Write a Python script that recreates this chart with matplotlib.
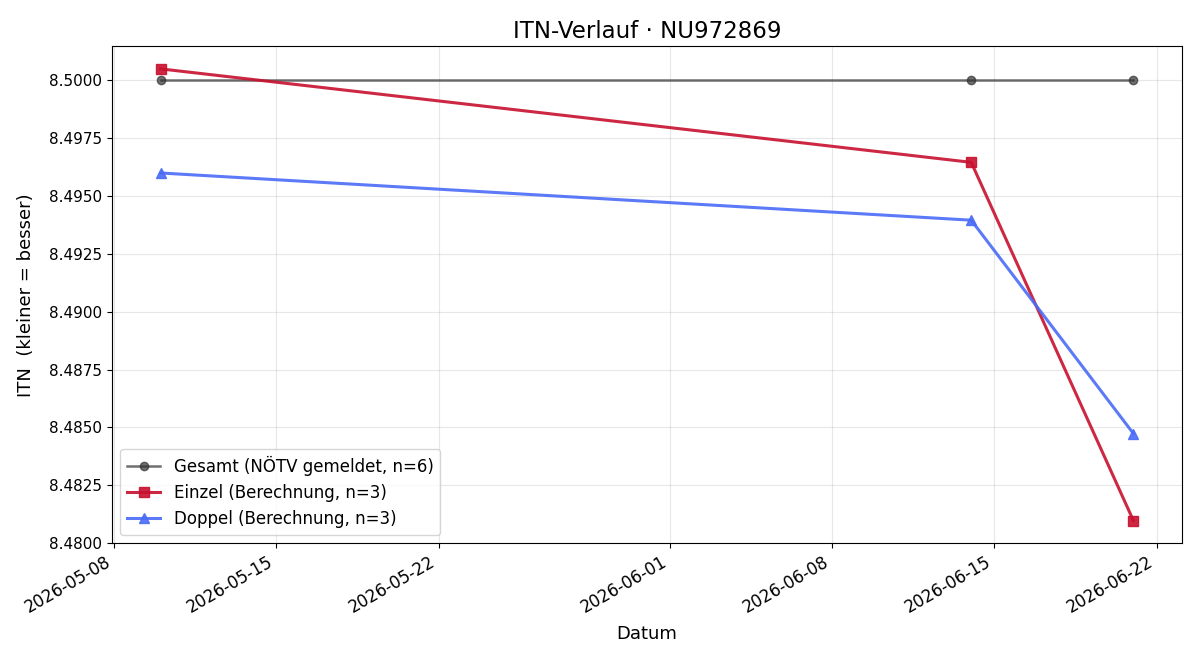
import numpy as np
import pandas as pd
import matplotlib
matplotlib.use("Agg")
import matplotlib.pyplot as plt
import matplotlib.dates as mdates
from matplotlib.ticker import FormatStrFormatter

gesamt_dates = pd.to_datetime(["2026-05-10", "2026-06-14", "2026-06-21"])
gesamt_itn = [8.5000, 8.5000, 8.5000]

einzel_dates = pd.to_datetime(["2026-05-10", "2026-06-14", "2026-06-21"])
einzel_itn = [8.50050, 8.49646, 8.48098]

doppel_dates = pd.to_datetime(["2026-05-10", "2026-06-14", "2026-06-21"])
doppel_itn = [8.49600, 8.49396, 8.48474]

fig, ax = plt.subplots(figsize=(12, 6.6), dpi=100)

ax.plot(gesamt_dates, gesamt_itn, marker="o", color="#333333", alpha=0.7,
        linewidth=1.8, markersize=6, label="Gesamt (NÖTV gemeldet, n=6)")
ax.plot(einzel_dates, einzel_itn, marker="s", color="#c8102e", alpha=0.9,
        linewidth=2.2, markersize=7, label="Einzel (Berechnung, n=3)")
ax.plot(doppel_dates, doppel_itn, marker="^", color="#4a6cf7", alpha=0.9,
        linewidth=2.2, markersize=7, label="Doppel (Berechnung, n=3)")

ax.set_title("ITN-Verlauf · NU972869", fontsize=16.5)
ax.set_xlabel("Datum", fontsize=13, labelpad=6)
ax.set_ylabel("ITN  (kleiner = besser)", fontsize=13, labelpad=10)
ax.set_ylim(8.4800, 8.50148)
ax.yaxis.set_major_formatter(FormatStrFormatter("%.4f"))
ax.xaxis.set_major_formatter(mdates.DateFormatter("%Y-%m-%d"))
ax.grid(True, alpha=0.3)
ax.legend(loc="lower left", fontsize=12)
ax.tick_params(axis="y", labelsize=11)
ax.tick_params(axis="x", labelsize=12)
fig.autofmt_xdate()
fig.subplots_adjust(left=0.0933, right=0.985, top=0.930, bottom=0.177)
fig.savefig("out.png")
